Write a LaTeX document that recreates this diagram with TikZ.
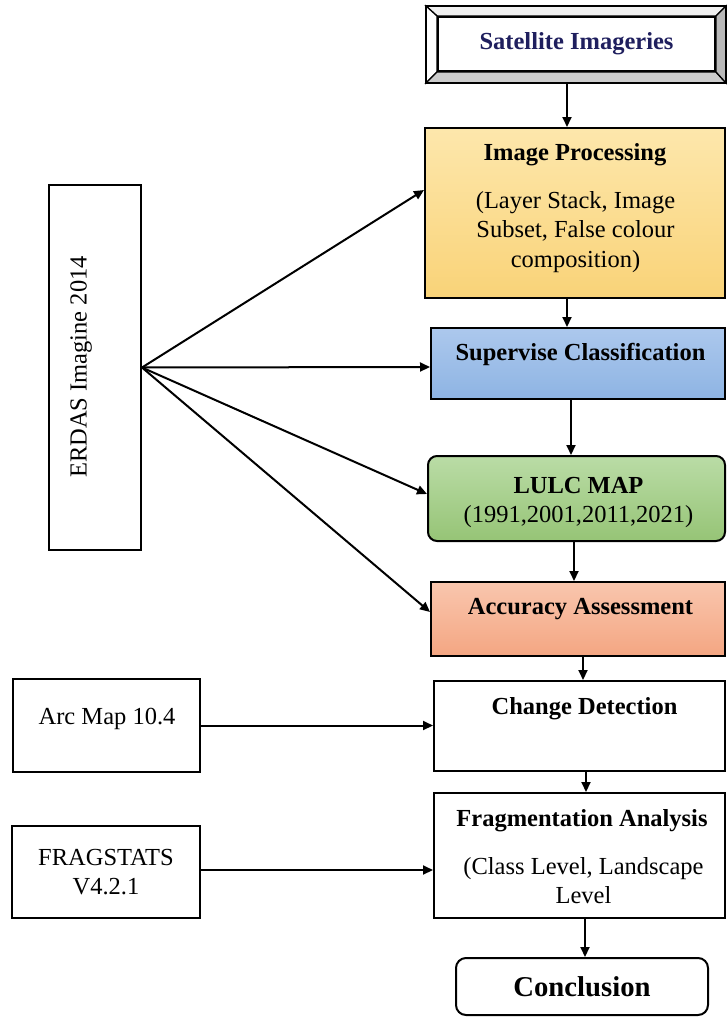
\documentclass[tikz,border=0pt]{standalone}
\usepackage{fontspec}
\setmainfont{Liberation Serif}
\usetikzlibrary{arrows.meta}
\definecolor{ipTop}{RGB}{253,231,172}
\definecolor{ipBot}{RGB}{249,211,120}
\definecolor{scTop}{RGB}{172,200,237}
\definecolor{scBot}{RGB}{142,180,227}
\definecolor{luTop}{RGB}{186,220,166}
\definecolor{luBot}{RGB}{150,196,118}
\definecolor{acTop}{RGB}{249,198,174}
\definecolor{acBot}{RGB}{244,166,130}
\definecolor{navy}{RGB}{31,31,94}
\newcommand{\txt}{\fontsize{24.5}{29.5}\selectfont}

\begin{document}
\begin{tikzpicture}[x=1pt,y=-1pt, line width=2pt, >={Triangle[length=10pt,width=9pt]},
    bnode/.style={draw,rectangle,line width=2pt,inner sep=0pt},
    tnode/.style={font=\txt\bfseries,anchor=base},
    lnode/.style={font=\txt,align=center}]
    \useasboundingbox (0,0) rectangle (726,1017);

    % boxes on the right
    \node[bnode,minimum width=298,minimum height=75] (sat) at (576,44.5) {};
    \node[bnode,minimum width=300,minimum height=170,top color=ipTop,bottom color=ipBot] (ip) at (575,213) {};
    \node[bnode,minimum width=294,minimum height=71,top color=scTop,bottom color=scBot] (sc) at (578,363.5) {};
    \node[bnode,minimum width=297,minimum height=85,rounded corners=9,top color=luTop,bottom color=luBot] (lulc) at (576.5,498.5) {};
    \node[bnode,minimum width=294,minimum height=74,top color=acTop,bottom color=acBot] (acc) at (578,619) {};
    \node[bnode,minimum width=291,minimum height=90] (cd) at (579.5,726) {};
    \node[bnode,minimum width=291,minimum height=125] (fa) at (579.5,855.5) {};
    \node[bnode,minimum width=252,minimum height=57,rounded corners=10] (con) at (582,986.5) {\fontsize{28.7}{34}\selectfont\bfseries Conclusion};

    % boxes on the left
    \node[bnode,minimum width=92,minimum height=365] (erdas) at (95,367.5) {};
    \node[lnode,rotate=90] (erdasT) at (81,367) {ERDAS Imagine 2014};
    \node[bnode,minimum width=187,minimum height=93] (arc) at (106.5,725.5) {};
    \node[font=\txt,anchor=base] (arcT) at (107,724) {Arc Map 10.4};
    \node[bnode,minimum width=188,minimum height=92,lnode] (frag) at (106,872) {FRAGSTATS\\V4.2.1};

    % bevel of the first box
    \begin{scope}[line width=1.3pt]
    \filldraw[fill=gray!12] (sat.north west) -- (sat.north east) -- ([shift={(-10,10)}]sat.north east) -- ([shift={(11,10)}]sat.north west) -- cycle;
    \filldraw[fill=white] (sat.north west) -- ([shift={(11,10)}]sat.north west) -- ([shift={(11,-11)}]sat.south west) -- (sat.south west) -- cycle;
    \filldraw[fill=gray!40] (sat.south west) -- (sat.south east) -- ([shift={(-10,-11)}]sat.south east) -- ([shift={(11,-11)}]sat.south west) -- cycle;
    \filldraw[fill=gray!55] (sat.north east) -- (sat.south east) -- ([shift={(-10,-11)}]sat.south east) -- ([shift={(-10,10)}]sat.north east) -- cycle;
    \end{scope}
    \draw[line width=2pt] (sat.north west) rectangle (sat.south east);
    \node[bnode,line width=1.3pt,fill=white,minimum width=277,minimum height=54,text=navy,font=\txt\bfseries] (satT) at (576.5,44) {Satellite Imageries};

    % texts
    \node[tnode] (ipT) at (575,160) {Image Processing};
    \node[lnode] (ipB) at (575.5,232) {(Layer Stack, Image\\Subset, False colour\\composition)};
    \node[tnode] (scT) at (580.5,360) {Supervise Classification};
    \node[lnode] (lulcT) at (578.5,502.5) {\textbf{LULC MAP}\\(1991,2001,2011,2021)};
    \node[tnode] (accT) at (580.5,614) {Accuracy Assessment};
    \node[tnode] (cdT) at (584.5,714) {Change Detection};
    \node[tnode] (faT) at (582,826) {Fragmentation Analysis};
    \node[lnode] (faB) at (583.5,880.5) {(Class Level, Landscape\\Level};

    % main flow
    \draw[->] ([xshift=-9pt]sat.south) to ([xshift=-8pt]ip.north);
    \draw[->] ([xshift=-8pt]ip.south) to ([xshift=-11pt]sc.north);
    \draw[->] ([xshift=-7pt]sc.south) to ([xshift=-5.5pt]lulc.north);
    \draw[->] ([xshift=-2.5pt]lulc.south) to ([xshift=-4pt]acc.north);
    \draw[->] ([xshift=5pt]acc.south) to ([xshift=3.5pt]cd.north);
    \draw[->] ([xshift=6.5pt]cd.south) to ([xshift=6.5pt]fa.north);
    \draw[->] ([xshift=5.5pt]fa.south) to ([xshift=3pt]con.north);

    % software
    \draw[->] (erdas.east) to ([yshift=23pt]ip.west);
    \draw[->] (erdas.east) to ([yshift=-3.5pt]sc.west);
    \draw[->] (erdas.east) to ([yshift=4.5pt]lulc.west);
    \draw[->] (erdas.east) to ([yshift=7pt]acc.west);
    \draw[->] (arc.east) to (arc.east -| cd.west);
    \draw[->] ([yshift=2pt]frag.east) to ([yshift=2pt]frag.east -| fa.west);
\end{tikzpicture}
\end{document}
